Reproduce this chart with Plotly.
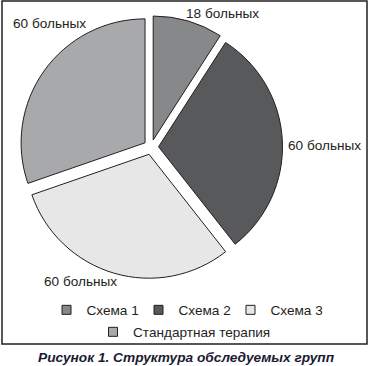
import plotly.graph_objects as go

categories = ["Схема 1", "Схема 2", "Схема 3", "Стандартная терапия"]
patients = [18, 60, 60, 60]
colors = ["#87888a", "#58595b", "#e7e7e8", "#a8a9ab"]
label_suffix = " больных"
caption = "Рисунок 1. Структура обследуемых групп"

W, H = 369, 366

fig = go.Figure()
fig.add_trace(go.Pie(
    labels=categories, values=patients, sort=False, direction="clockwise", rotation=0,
    marker=dict(colors=colors, line=dict(color="#231f20", width=1)),
    pull=[0.06] * len(patients), textinfo="none", showlegend=False,
    domain=dict(x=[0.053, 0.766], y=[0.239, 0.957]), hoverinfo="label+value",
))

# legend entries (first row and second row centred separately)
for i, (c, col) in enumerate(zip(categories, colors)):
    fig.add_trace(go.Scatter(
        x=[None], y=[None], mode="markers", name=c,
        marker=dict(symbol="square", size=9, color=col, line=dict(color="#231f20", width=1)),
        legend="legend" if i < 3 else "legend2",
    ))

# value labels
label_pos = [(223, 13), (324, 145), (80, 281), (50, 24)]
for v, (px, py) in zip(patients, label_pos):
    fig.add_annotation(text=f"{v}{label_suffix}", x=px / W, y=1 - py / H, xref="paper", yref="paper",
                       showarrow=False, font=dict(size=13.6, color="#231f20", family="Liberation Sans, Arial"),
                       xanchor="center", yanchor="middle")

fig.add_annotation(text=f"<b><i>{caption}</i></b>", x=186 / W, y=1 - 357 / H, xref="paper", yref="paper",
                   showarrow=False, font=dict(size=13.7, color="#1a1a33", family="Liberation Sans, Arial"),
                   xanchor="center", yanchor="middle")

fig.add_shape(type="rect", xref="paper", yref="paper", x0=2 / W, x1=367 / W, y0=1 - 344 / H, y1=1 - 1 / H,
              line=dict(color="#231f20", width=1.5), fillcolor="rgba(0,0,0,0)")

legfont = dict(size=13.6, color="#231f20", family="Liberation Sans, Arial")
fig.update_layout(
    width=W, height=H, margin=dict(l=0, r=0, t=0, b=0),
    paper_bgcolor="white", plot_bgcolor="white",
    xaxis=dict(visible=False), yaxis=dict(visible=False),
    legend=dict(orientation="h", x=0.5, xanchor="center", y=1 - 310 / H, yanchor="middle",
                font=legfont, itemwidth=30, entrywidth=47, entrywidthmode="pixels",
                bgcolor="rgba(0,0,0,0)", tracegroupgap=0),
    legend2=dict(orientation="h", x=0.5, xanchor="center", y=1 - 332 / H, yanchor="middle",
                 font=legfont, itemwidth=30, bgcolor="rgba(0,0,0,0)"),
)

fig.write_html("out.html")
